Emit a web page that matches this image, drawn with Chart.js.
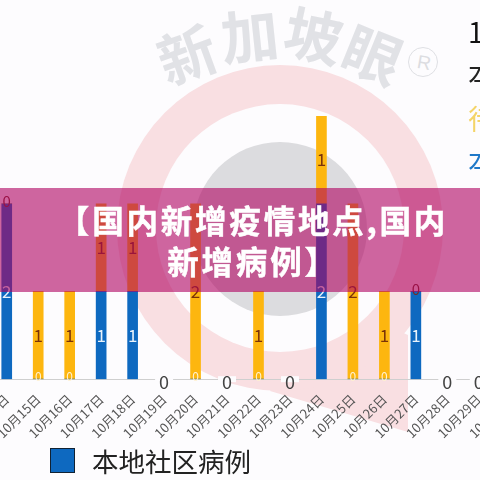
<!DOCTYPE html>
<html>
<head>
<meta charset="utf-8">
<script src="https://cdn.jsdelivr.net/npm/chart.js@4"></script>
<style>
    html, body { margin: 0; padding: 0; width: 480px; height: 480px; overflow: hidden; background: #fdfcfe; }
    body { position: relative; font-family: "Noto Sans CJK SC", sans-serif; }
    #decor { position: absolute; left: 0; top: 0; }
    #chart { position: absolute; left: -40px; top: 0; }
    #banner { position: absolute; left: 0; top: 188px; width: 480px; height: 104px; background: rgba(175, 0, 95, 0.6); }
    #title { position: absolute; left: 0; top: 188px; width: 506px; height: 104px; color: #fff; font-weight: 700; font-size: 31.5px; line-height: 41px; text-align: center; padding-top: 11px; box-sizing: border-box; letter-spacing: 2.8px; -webkit-text-stroke: 0.5px #fff; }
    .side { position: absolute; left: 468px; font-size: 28px; line-height: 32px; white-space: nowrap; }
    #legend { position: absolute; left: 50px; top: 447px; display: flex; align-items: center; color: #222; font-size: 26.5px; line-height: 27px; }
    #legend i { display: block; width: 25px; height: 25px; margin-right: 17px; border: 1px solid #123; box-sizing: border-box; }
</style>
</head>
<body>
<svg id="decor" width="480" height="480">
    <path d="M270 391 L408 432 L408 335 L330 300 Z" fill="#f9dfe2"/>
    <circle cx="280" cy="228" r="163" fill="#f9dfe2"/>
    <circle cx="280" cy="228" r="124" fill="#fdfcfe"/>
    <circle cx="280" cy="229" r="87" fill="#dcdcdf"/>
    <g font-size="58" font-weight="700" fill="#e1e2e6" text-anchor="middle" font-family="Noto Sans CJK SC">
        <text transform="translate(188 57) rotate(-20)" y="20">新</text>
        <text transform="translate(250 38) rotate(-6)" y="20">加</text>
        <text transform="translate(313 38) rotate(12)" y="20">坡</text>
        <text transform="translate(372 57) rotate(22)" y="20">眼</text>
    </g>
    <circle cx="423" cy="62" r="14.5" fill="none" stroke="#dfe0e4" stroke-width="1"/>
    <text transform="translate(423 69) rotate(10)" font-size="19" fill="#dcdde1" text-anchor="middle" font-family="Liberation Sans">R</text>
</svg>

<canvas id="chart" width="640" height="445"></canvas>

<div class="side" style="top:15px;color:#111">10月</div>
<div class="side" style="top:57px;color:#222">本地</div>
<div class="side" style="top:102px;color:#f4d468">待</div>
<div class="side" style="top:144px;color:#1f78c8">本地</div>

<div id="banner"></div>
<div id="title">【国内新增疫情地点,国内<br>新增病例】</div>
<div id="legend"></div>

<script>
const categories = ["10月14日", "10月15日", "10月16日", "10月17日", "10月18日", "10月19日",
    "10月20日", "10月21日", "10月22日", "10月23日", "10月24日", "10月25日", "10月26日",
    "10月27日", "10月28日", "10月29日", "10月30日"];
const localCases = [2, 0, 0, 1, 1, 0, 0, 0, 0, 0, 2, 0, 0, 1, 0, 0, 0];
const otherCases = [0, 1, 1, 1, 1, 0, 2, 0, 1, 0, 1, 2, 1, 0, 0, 0, 0];
const localName = "本地社区病例";
const otherName = "待查病例";
const localColor = "#0e69c0";
const otherColor = "#fdb60f";

// value labels, zero included (no datalabels plugin available here)
const valueLabels = {
    id: "valueLabels",
    afterDatasetsDraw(chart) {
        const ctx = chart.ctx;
        ctx.save();
        ctx.textAlign = "center";
        ctx.textBaseline = "middle";
        chart.data.datasets.forEach((ds, d) => {
            chart.getDatasetMeta(d).data.forEach((bar, i) => {
                const v = ds.data[i];
                const total = localCases[i] + otherCases[i];
                if (total === 0) {
                    if (d !== 0) return;
                    ctx.fillStyle = "#fdfcfe";
                    ctx.fillRect(bar.x - 9, bar.base - 3, 18, 6);
                    ctx.font = "18px 'Noto Sans CJK SC'";
                    ctx.fillStyle = "#444";
                    ctx.fillText("0", bar.x, bar.base + 3);
                } else if (v === 0 && d === 0) {
                    ctx.font = "12px 'Noto Sans CJK SC'";
                    ctx.fillStyle = "#fff1d0";
                    ctx.fillText("0", bar.x, bar.base - 3);
                } else if (v === 0) {
                    ctx.font = "15px 'Noto Sans CJK SC'";
                    ctx.fillStyle = "#7a2a20";
                    ctx.fillText("0", bar.x, bar.y - 2);
                } else {
                    ctx.font = "17px 'Noto Sans CJK SC'";
                    ctx.fillStyle = d === 0 ? "#e8f2fb" : "#7a3208";
                    ctx.fillText(String(v), bar.x, (bar.y + bar.base) / 2);
                }
            });
        });
        ctx.restore();
    }
};

new Chart(document.getElementById("chart"), {
    type: "bar",
    data: {
        labels: categories,
        datasets: [
            { label: localName, data: localCases, backgroundColor: localColor, barThickness: 10 },
            { label: otherName, data: otherCases, backgroundColor: otherColor, barThickness: 10 }
        ]
    },
    options: {
        responsive: false,
        animation: false,
        layout: { padding: { left: 31, right: 74, top: 116, bottom: 0 } },
        plugins: { legend: { display: false }, tooltip: { enabled: false } },
        scales: {
            x: {
                stacked: true,
                grid: { display: false },
                border: { color: "#cfcfcf" },
                ticks: {
                    autoSkip: false,
                    minRotation: 45,
                    maxRotation: 45,
                    padding: 4,
                    color: "#555",
                    font: { size: 13, family: "Noto Sans CJK SC" }
                }
            },
            y: { stacked: true, display: false, min: 0, max: 3 }
        }
    },
    plugins: [valueLabels]
});

document.getElementById("legend").innerHTML =
    `<i style="background:${localColor}"></i><span>${localName}</span>`;
</script>
</body>
</html>
